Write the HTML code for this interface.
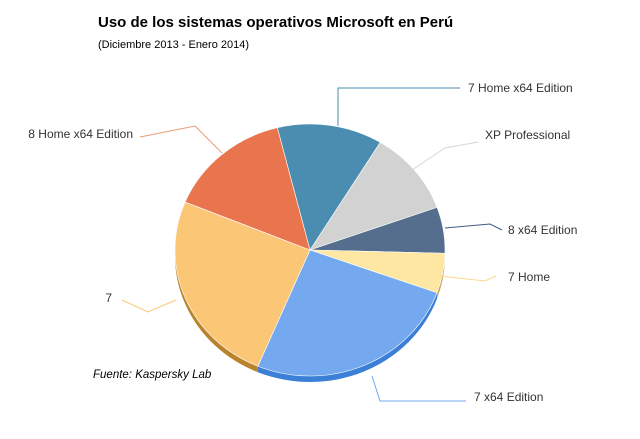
<!DOCTYPE html>
<html><head><meta charset="utf-8"><style>
body{margin:0;background:#fff;}
svg{display:block;font-family:"Liberation Sans",sans-serif;}
</style></head><body>
<svg id="c" width="640" height="439">
<text x="98" y="27" font-size="15" font-weight="bold" fill="#000">Uso de los sistemas operativos Microsoft en Perú</text>
<text x="98" y="48" font-size="11" fill="#000">(Diciembre 2013 - Enero 2014)</text>
<text x="93" y="378" font-size="11.5" font-style="italic" fill="#000">Fuente: Kaspersky Lab</text>
<g id="depth"></g><g id="slices"></g><g id="labels"></g>
</svg>
<script>
const categories=["7 Home x64 Edition","XP Professional","8 x64 Edition","7 Home","7 x64 Edition","7","8 Home x64 Edition"];
const values=[12.6,10.8,5.9,5.1,25.8,24.9,14.9];
const colors=["#4a8db0","#d2d2d2","#566e8e","#fde7a2","#74a9f0","#fbc776","#e8754d"];
const dark=["#2f6f90","#a0a0a0","#3e5470","#c9a85a","#3b7fd6","#b9832e","#b85530"];
const cx=310,cy=250,rx=135,ry=126,depth=6,start=346;
const ns="http://www.w3.org/2000/svg";
function pt(a,dy){const r=a*Math.PI/180;return [cx+rx*Math.sin(r),cy+(dy||0)-ry*Math.cos(r)];}
const total=values.reduce((a,b)=>a+b,0);
let ang=start;
const dg=document.getElementById('depth'),sg=document.getElementById('slices');
values.forEach((v,i)=>{
 const sw=v/total*360,a0=ang,a1=ang+sw;ang=a1;
 const p0=pt(a0),p1=pt(a1),la=sw>180?1:0;
 const d=document.createElementNS(ns,'path');
 const q0=pt(a0,depth),q1=pt(a1,depth);
 d.setAttribute('d',`M${p0} A${rx},${ry} 0 ${la} 1 ${p1} L${q1} A${rx},${ry} 0 ${la} 0 ${q0}Z`);
 d.setAttribute('fill',dark[i]);
 
 
 dg.appendChild(d);
 const p=document.createElementNS(ns,'path');
 p.setAttribute('d',`M${cx},${cy} L${p0} A${rx},${ry} 0 ${la} 1 ${p1}Z`);
 p.setAttribute('fill',colors[i]);
 p.setAttribute('stroke','#fff');p.setAttribute('stroke-width','0.6');
 
 
 sg.appendChild(p);
});
const lines=[
 ["338,126 338,88 460,88",468,88,"start"],
 ["412,170 445,148 478,142",485,135,"start"],
 ["445,228 490,224 502,230",508,230,"start"],
 ["440,276 485,281 496,276",508,277,"start"],
 ["372,376 380,401 466,401",474,397,"start"],
 ["176,300 148,312 122,300",112,298,"end"],
 ["222,153 195,126 140,137",133,134,"end"]
];
const lc=["#4a8db0","#d2d8e0","#3e5a86","#fbd890","#74a9f0","#fbc776","#eb9a78"];
const lg=document.getElementById('labels');
lines.forEach((l,i)=>{
 const pl=document.createElementNS(ns,'polyline');
 pl.setAttribute('points',l[0]);pl.setAttribute('fill','none');pl.setAttribute('stroke',lc[i]);pl.setAttribute('stroke-width','1');
 
 
 lg.appendChild(pl);
 const t=document.createElementNS(ns,'text');
 t.setAttribute('x',l[1]);t.setAttribute('y',l[2]+4);t.setAttribute('text-anchor',l[3]);
 t.setAttribute('font-size','12');t.setAttribute('fill','#333');
 t.textContent=categories[i];
 
 
 lg.appendChild(t);
});
</script>
</body></html>
